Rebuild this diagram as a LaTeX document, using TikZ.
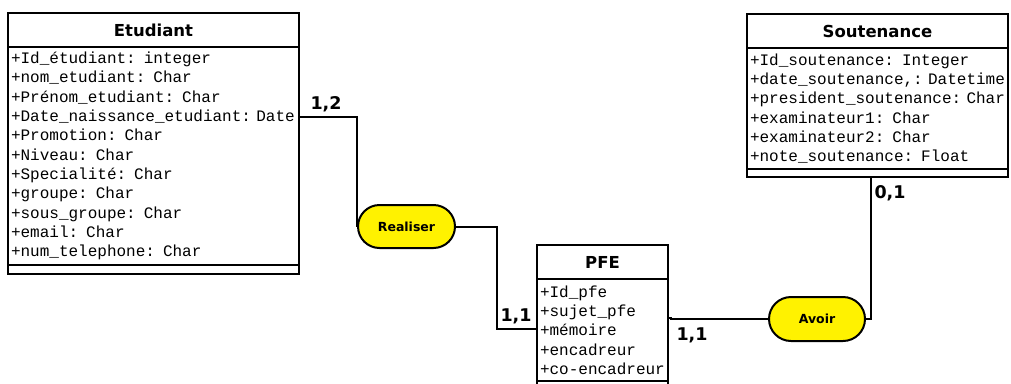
\documentclass[tikz,border=0pt]{standalone}
\usepackage{fontspec}
\newfontfamily\umlfont{DejaVu Sans}
\newfontfamily\attrfont{Liberation Mono}
\usetikzlibrary{positioning,shapes.misc}

\begin{document}
\begin{tikzpicture}[x=1pt, y=-1pt,
    classhead/.style={draw, line width=2.4pt, outer sep=0pt, inner sep=0pt, minimum height=34pt,
        font=\umlfont\bfseries\fontsize{16.5}{19}\selectfont},
    classbody/.style={draw, line width=2.4pt, outer sep=0pt, inner xsep=3pt, inner ysep=0pt, align=left,
        font=\attrfont\fontsize{16}{19.3}\selectfont},
    classfoot/.style={draw, line width=2.4pt, outer sep=0pt, inner sep=0pt},
    relation/.style={draw, line width=2pt, fill=yellow, rounded rectangle, inner sep=0pt,
        font=\umlfont\bfseries\fontsize{12.5}{15}\selectfont},
    link/.style={line width=2pt},
    card/.style={inner sep=0pt, font=\umlfont\bfseries\fontsize{17.5}{20}\selectfont}]
    \fill[white] (0,0) rectangle (1011,383);
    \useasboundingbox (0,0) rectangle (1011,383);

    % classe Etudiant
    \node[classhead, minimum width=291pt, anchor=north west] (etud-head) at (8,13) {Etudiant};
    \node[classbody, text width=285pt, minimum height=218pt, below=0pt of etud-head] (etud-body) {%
        +Id\_étudiant: integer\\
        +nom\_etudiant: Char\\
        +Prénom\_etudiant: Char\\
        +Date\_naissance\_etudiant:~Date\\
        +Promotion: Char\\
        +Niveau: Char\\
        +Specialité: Char\\
        +groupe: Char\\
        +sous\_groupe: Char\\
        +email: Char\\
        +num\_telephone: Char};
    \node[classfoot, minimum width=291pt, minimum height=9pt, below=0pt of etud-body] (etud-foot) {};

    % classe Soutenance
    \node[classhead, minimum width=261pt, anchor=north west] (sout-head) at (747,14) {Soutenance};
    \node[classbody, text width=255pt, minimum height=121pt, below=0pt of sout-head] (sout-body) {%
        +Id\_soutenance: Integer\\
        +date\_soutenance,:~Datetime\\
        +president\_soutenance:~Char\\
        +examinateur1: Char\\
        +examinateur2: Char\\
        +note\_soutenance: Float};
    \node[classfoot, minimum width=261pt, minimum height=8pt, below=0pt of sout-body] (sout-foot) {};

    % classe PFE
    \node[classhead, minimum width=131pt, anchor=north west] (pfe-head) at (537,245) {PFE};
    \node[classbody, text width=125pt, minimum height=102pt, below=0pt of pfe-head] (pfe-body) {%
        +Id\_pfe\\
        +sujet\_pfe\\
        +mémoire\\
        +encadreur\\
        +co-encadreur};
    \node[classfoot, minimum width=131pt, minimum height=9pt, below=0pt of pfe-body] (pfe-foot) {};

    % associations
    \node[relation, minimum width=97pt, minimum height=43pt] (realiser) at (406.5,226.5) {Realiser};
    \node[relation, minimum width=96pt, minimum height=44pt] (avoir) at (817,319) {Avoir};

    \coordinate (etud-port) at ([yshift=-70pt]etud-body.north east);
    \coordinate (pfe-in) at ([yshift=-50pt]pfe-body.north west);
    \coordinate (pfe-out) at ([yshift=-39pt]pfe-body.north east);

    \draw[link] (etud-port) -- (etud-port -| realiser.west) -- (realiser.west);
    \draw[link] (realiser.east) -- ++(41,0) |- (pfe-in);
    \draw[link] (pfe-out) -- ++(3,0) |- (avoir.west);
    \draw[link] (avoir.east) -- ++(5,0) coordinate (avoir-turn) -- (avoir-turn |- sout-foot.south);

    % cardinalites
    \node[card] (card-etud) at (326,104) {1,2};
    \node[card] (card-pfe-r) at (516,316) {1,1};
    \node[card] (card-pfe-a) at (692,335) {1,1};
    \node[card] (card-sout) at (890,193) {0,1};
\end{tikzpicture}
\end{document}
